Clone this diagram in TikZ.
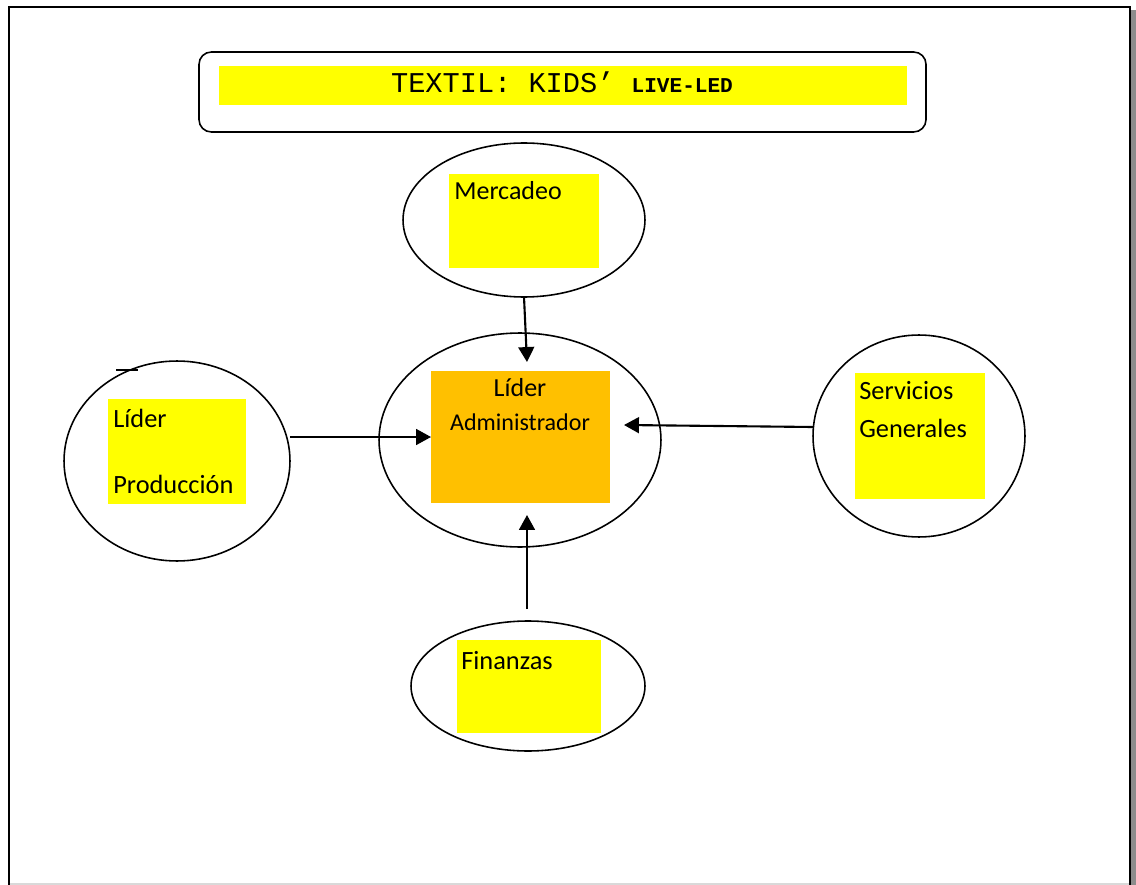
\documentclass[tikz,border=0pt]{standalone}
\usepackage{fontspec}
\setmainfont{Carlito}
\newfontfamily\monofont{Liberation Mono}
\usetikzlibrary{shapes.geometric,arrows.meta}
\definecolor{boxyellow}{RGB}{255,255,0}
\definecolor{boxorange}{RGB}{255,192,0}
\tikzset{
  area/.style={draw, ellipse, line width=.9pt, inner sep=0, outer sep=0},
  tag/.style={fill=boxyellow, draw=none, inner sep=0, outer sep=0},
  lbl/.style={anchor=base west, inner sep=0, font=\fontsize{14.8}{16}\selectfont},
  arr/.style={-{Triangle[length=8.5pt,width=9pt]}, line width=1.2pt},
}
\begin{document}
\begin{tikzpicture}[x=0.02cm, y=-0.02cm]
            \useasboundingbox (0,0) rectangle (1136,885);
            % page frame
            \fill[gray!90] (1131,10) rectangle (1136,885);
            \draw[black!15, line width=.8pt] (9,884) -- (1130,884);
            \draw[line width=1.2pt] (9,885) -- (9,7) -- (1130,7) -- (1130,885);
            % title
            \draw[line width=.9pt, rounded corners=7pt] (199,52) rectangle (926,132);
            \fill[boxyellow] (219,66) rectangle (907,105);
            \node[anchor=base, inner sep=0] (title) at (562,93) {\monofont\fontsize{16.3}{18}\selectfont TEXTIL: KIDS’ {\bfseries\fontsize{12}{13}\selectfont LIVE-LED}};
            % areas
            \node[area, minimum width=4.84cm, minimum height=3.08cm] (merc) at (524,220) {};
            \node[area, minimum width=5.64cm, minimum height=4.28cm] (adm) at (520,440) {};
            \node[area, minimum width=4.52cm, minimum height=4.0cm] (prod) at (177,461) {};
            \node[area, minimum width=4.24cm, minimum height=4.04cm] (serv) at (919,436) {};
            \node[area, minimum width=4.68cm, minimum height=2.6cm] (fin) at (528,686) {};
            % boxes
            \node[tag, minimum width=3cm, minimum height=1.88cm] (mercbox) at (524,221) {};
            \node[tag, fill=boxorange, minimum width=3.58cm, minimum height=2.64cm] (admbox) at (520.5,437) {};
            \node[tag, minimum width=2.76cm, minimum height=2.1cm] (prodbox) at (177,451.5) {};
            \node[tag, minimum width=2.6cm, minimum height=2.52cm] (servbox) at (920,436) {};
            \node[tag, minimum width=2.88cm, minimum height=1.86cm] (finbox) at (529,686.5) {};
            % labels
            \node[lbl] (merclbl) at (454,200) {Mercadeo};
            \node[lbl, anchor=base] (admlbl1) at (520,396) {Líder};
            \node[lbl, anchor=base, font=\fontsize{13.7}{15}\selectfont] (admlbl2) at (520,430) {Administrador};
            \node[lbl, font=\fontsize{15}{17}\selectfont] (prodlbl1) at (113,427) {Líder};
            \node[lbl, font=\fontsize{15}{17}\selectfont] (prodlbl2) at (113,493) {Producción};
            \node[lbl, font=\fontsize{15}{17}\selectfont] (servlbl1) at (859,399) {Servicios};
            \node[lbl, font=\fontsize{15}{17}\selectfont] (servlbl2) at (859,437) {Generales};
            \node[lbl, font=\fontsize{15}{17}\selectfont] (finlbl) at (461,669) {Finanzas};
            % stray mark
            \draw[line width=.9pt] (116,370) -- (138,370);
            % connectors
            \coordinate (admtop) at (527,362);
            \coordinate (admright) at (624,425);
            \coordinate (admbot) at (527,515);
            \coordinate (servout) at (813,427);
            \coordinate (finout) at (527,609);
            \draw[arr] (merc.south) -- (admtop);
            \draw[arr] (prod.east |- admbox.west) -- (admbox.west);
            \draw[arr] (servout) -- (admright);
            \draw[arr] (finout) -- (admbot);
        \end{tikzpicture}
\end{document}
